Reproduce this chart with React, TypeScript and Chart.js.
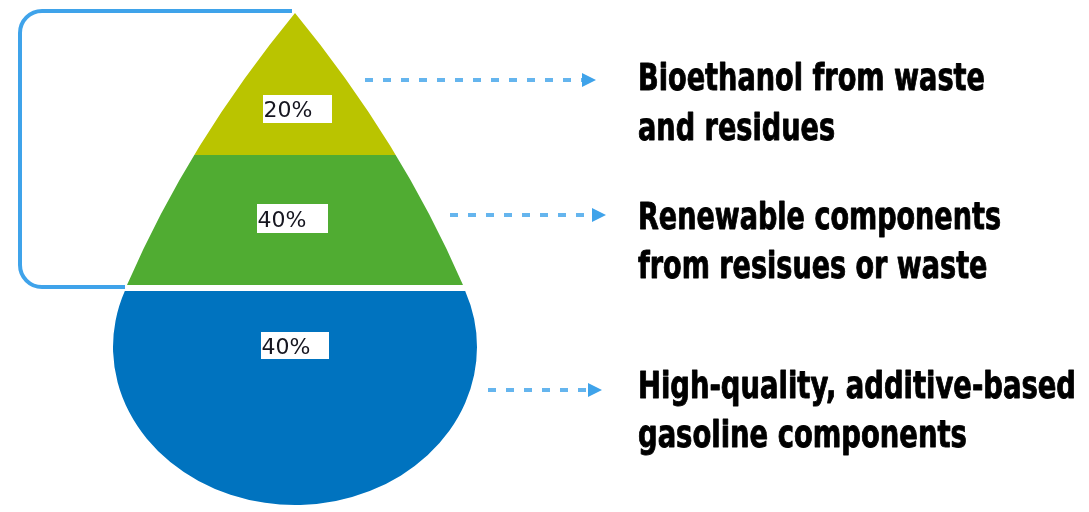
import React, { useEffect, useRef } from "react";
import { Chart, registerables } from "chart.js";

Chart.register(...registerables);

// ---- data ----
const layerNames = ["Bioethanol", "Renewable components", "Gasoline components"];
const shares = [20, 40, 40];
const shareLabels = shares.map((s) => `${s}%`);
const descLines = [
  ["Bioethanol from waste", "and residues"],
  ["Renewable components", "from resisues or waste"],
  ["High-quality, additive-based", "gasoline components"],
];

// ---- styles / geometry ----
const layerColors = ["#bac400", "#50ac32", "#0073bf"];
const accent = "#3fa3ea";
const W = 1089;
const H = 512;

const dropPlugin = {
  id: "drop",
  afterDatasetsDraw(chart: any) {
    const ctx: CanvasRenderingContext2D = chart.ctx;
    const xs = chart.scales.x;
    const ys = chart.scales.y;
    const X = (v: number) => xs.getPixelForValue(v);
    const Y = (v: number) => ys.getPixelForValue(v);
    const opts = chart.options.plugins.drop;
    const labels: string[] = opts.labels;
    const lines: string[][] = opts.lines;

    // geometry (in scale units)
    const axis = 295;
    const apex = { x: axis, y: 13 };
    const coneEnd = { dx: 168, y: 285 };
    const ctrl = { dx: 106, y: 142 };
    const cx = axis, cy = 347, rx = 182, ry = 158;
    const joinY = 291;
    const sa = Math.asin((joinY - cy) / ry); // negative
    const leftAng = Math.PI - sa;
    const rightAng = sa;
    const lx = cx + rx * Math.cos(leftAng);

    const dropPath = () => {
      ctx.beginPath();
      ctx.moveTo(X(apex.x), Y(apex.y));
      ctx.quadraticCurveTo(X(axis - ctrl.dx), Y(ctrl.y), X(axis - coneEnd.dx), Y(coneEnd.y));
      ctx.lineTo(X(lx), Y(joinY));
      ctx.ellipse(
        X(cx), Y(cy),
        X(cx + rx) - X(cx), Y(cy + ry) - Y(cy),
        0, leftAng, rightAng, true
      );
      ctx.lineTo(X(axis + coneEnd.dx), Y(coneEnd.y));
      ctx.quadraticCurveTo(X(axis + ctrl.dx), Y(ctrl.y), X(apex.x), Y(apex.y));
      ctx.closePath();
    };

    // bands: [top, bottom] in scale units
    const bands = [
      [0, 155],
      [155, 285],
      [291, 520],
    ];

    ctx.save();
    dropPath();
    ctx.clip();
    bands.forEach((b, i) => {
      ctx.fillStyle = layerColors[i];
      ctx.fillRect(X(0), Y(b[0]), X(W) - X(0), Y(b[1]) - Y(b[0]));
    });
    ctx.restore();

    // bracket
    ctx.save();
    ctx.strokeStyle = accent;
    ctx.lineWidth = 4;
    ctx.lineJoin = "round";
    ctx.beginPath();
    const r = 22;
    ctx.moveTo(X(292), Y(11));
    ctx.lineTo(X(20 + r), Y(11));
    ctx.arcTo(X(20), Y(11), X(20), Y(11 + r), r);
    ctx.lineTo(X(20), Y(287 - r));
    ctx.arcTo(X(20), Y(287), X(20 + r), Y(287), r);
    ctx.lineTo(X(125), Y(287));
    ctx.stroke();
    ctx.restore();

    // percentage boxes
    const boxes = [
      { x: 263, y: 95, w: 69, h: 28 },
      { x: 257, y: 204, w: 71, h: 29 },
      { x: 261, y: 332, w: 68, h: 27 },
    ];
    labels.forEach((lab, i) => {
      const b = boxes[i];
      ctx.fillStyle = "#ffffff";
      ctx.fillRect(X(b.x), Y(b.y), X(b.x + b.w) - X(b.x), Y(b.y + b.h) - Y(b.y));
      ctx.fillStyle = "#15151f";
      ctx.font = '22px "DejaVu Sans", sans-serif';
      ctx.textAlign = "left";
      ctx.textBaseline = "alphabetic";
      ctx.fillText(lab, X(b.x + 0.5), Y(b.y + b.h / 2 + 8));
    });

    // arrows
    const arrows = [
      { y: 80, x0: 365, x1: 596 },
      { y: 215, x0: 450, x1: 606 },
      { y: 390, x0: 488, x1: 602 },
    ];
    arrows.forEach((a) => {
      ctx.save();
      ctx.strokeStyle = accent;
      ctx.globalAlpha = 0.8;
      ctx.lineWidth = 4;
      ctx.setLineDash([8, 10]);
      ctx.beginPath();
      ctx.moveTo(X(a.x0), Y(a.y));
      ctx.lineTo(X(a.x1 - 12), Y(a.y));
      ctx.stroke();
      ctx.setLineDash([]);
      ctx.globalAlpha = 1;
      ctx.fillStyle = accent;
      ctx.beginPath();
      ctx.moveTo(X(a.x1), Y(a.y));
      ctx.lineTo(X(a.x1 - 14), Y(a.y - 7));
      ctx.lineTo(X(a.x1 - 14), Y(a.y + 7));
      ctx.closePath();
      ctx.fill();
      ctx.restore();
    });

    // descriptions
    const baselines = [
      [90, 140],
      [229, 278],
      [398, 447],
    ];
    const targetWidths = [347, 363, 438];
    ctx.save();
    ctx.fillStyle = "#000000";
    ctx.strokeStyle = "#000000";
    ctx.lineJoin = "round";
    ctx.font = 'bold 38px "DejaVu Sans Condensed", "DejaVu Sans", sans-serif';
    ctx.textAlign = "left";
    ctx.textBaseline = "alphabetic";
    lines.forEach((ls, i) => {
      const f = targetWidths[i] / ctx.measureText(ls[0]).width;
      ls.forEach((t, j) => {
        ctx.save();
        ctx.translate(X(638), Y(baselines[i][j]));
        ctx.scale(f, 1);
        ctx.lineWidth = 0.9;
        ctx.fillText(t, 0, 0);
        ctx.strokeText(t, 0, 0);
        ctx.restore();
      });
    });
    ctx.restore();
  },
};

export default function App() {
  const ref = useRef<HTMLCanvasElement | null>(null);
  useEffect(() => {
    if (!ref.current) return;
    const chart = new Chart(ref.current, {
      type: "scatter",
      data: {
        datasets: [
          {
            label: layerNames.join(", "),
            data: [],
            pointRadius: 0,
          },
        ],
      },
      options: {
        responsive: false,
        animation: false,
        layout: { padding: 0 },
        scales: {
          x: { type: "linear", min: 0, max: W, display: false },
          y: { type: "linear", min: 0, max: H, reverse: true, display: false },
        },
        plugins: {
          legend: { display: false },
          tooltip: { enabled: false },
          drop: { labels: shareLabels, lines: descLines },
        } as any,
      },
      plugins: [dropPlugin],
    });
    return () => chart.destroy();
  }, []);
  return (
    <div style={{ position: "fixed", left: 0, top: 0, width: W, height: H, background: "#fff" }}>
      <canvas ref={ref} width={W} height={H} style={{ display: "block" }} />
    </div>
  );
}
